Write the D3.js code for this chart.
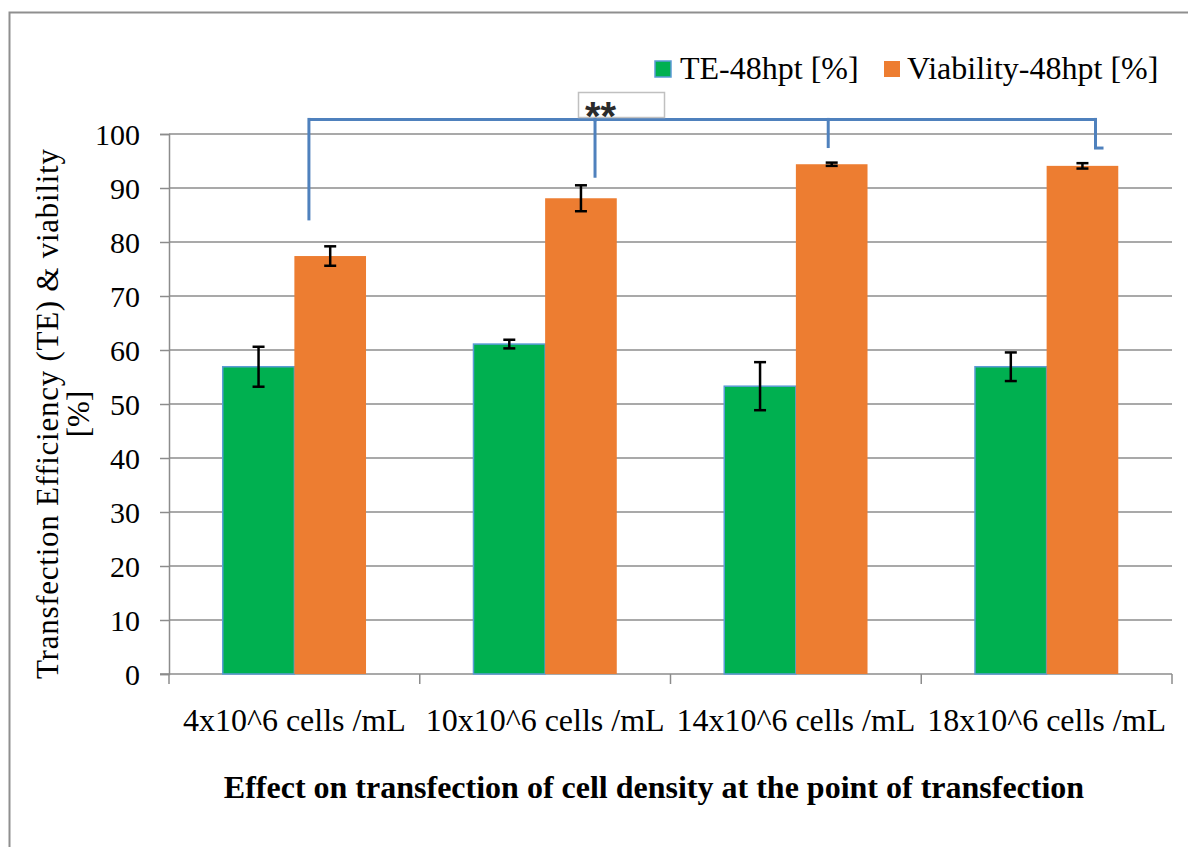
<!DOCTYPE html>
<html>
<head>
<meta charset="utf-8">
<script src="https://cdn.jsdelivr.net/npm/d3@7"></script>
<style>
  html, body { margin: 0; padding: 0; background: #fff; }
  svg { display: block; }
</style>
</head>
<body>
<svg id="chart" width="1188" height="847"></svg>
<script>
// Cell densities at the point of transfection
const categories = ["4x10^6 cells /mL", "10x10^6 cells /mL", "14x10^6 cells /mL", "18x10^6 cells /mL"];
const seriesNames = ["TE-48hpt [%]", "Viability-48hpt [%]"];
// Mean values and error bar half-widths (%)
const teValues = [56.9, 61.1, 53.3, 56.9];
const teErrors = [3.7, 0.8, 4.45, 2.65];
const viabilityValues = [77.4, 88.1, 94.4, 94.1];
const viabilityErrors = [1.8, 2.4, 0.3, 0.5];
const yTicks = [0, 10, 20, 30, 40, 50, 60, 70, 80, 90, 100];
// Significance bracket: top level and where each leg stops (in % units)
const bracketTop = 102.7;
const bracketLegEnds = [84.0, 91.9, 97.4, 97.4];
const significanceLabel = "**";

const colors = { "TE-48hpt [%]": "#00B050", "Viability-48hpt [%]": "#ED7D31" };
const gridColor = "#8c8c8c";
const SERIF = "'Liberation Serif', 'Times New Roman', serif";

const svg = d3.select("#chart");

// outer chart frame
svg.append("rect")
  .attr("x", 9.5).attr("y", 12.5)
  .attr("width", 1200).attr("height", 900)
  .attr("fill", "none").attr("stroke", "#8f8f8f").attr("stroke-width", 2);

const plot = { left: 169, right: 1172, top: 134, bottom: 674 };

const x0 = d3.scaleBand().domain(categories).range([plot.left, plot.right]).padding(0);
const x1 = d3.scaleBand().domain(seriesNames).range([0, x0.bandwidth()])
  .paddingInner(0).paddingOuter(0.75);
const y = d3.scaleLinear().domain([0, 100]).range([plot.bottom, plot.top]);

// horizontal gridlines
svg.append("g").selectAll("line").data(yTicks.filter(d => d > 0)).join("line")
  .attr("x1", plot.left).attr("x2", plot.right)
  .attr("y1", d => y(d)).attr("y2", d => y(d))
  .attr("stroke", gridColor).attr("stroke-width", 1.5);

// y axis
const yAxis = svg.append("g")
  .attr("transform", `translate(${plot.left},0)`)
  .call(d3.axisLeft(y).tickValues(yTicks).tickSize(9).tickPadding(20).tickFormat(d3.format("d")));
yAxis.attr("font-family", null).attr("font-size", null);
yAxis.select(".domain").attr("stroke", gridColor).attr("stroke-width", 1.5);
yAxis.selectAll(".tick line").attr("stroke", gridColor).attr("stroke-width", 1.5);
yAxis.selectAll(".tick text")
  .style("font-family", SERIF)
  .style("font-size", "30px").style("fill", "#000").attr("dy", "0.34em");

// x axis (ticks at category boundaries)
const boundaries = categories.map(c => x0(c)).concat([plot.right]);
const xAxisG = svg.append("g");
xAxisG.append("line")
  .attr("x1", plot.left - 9).attr("x2", plot.right)
  .attr("y1", plot.bottom).attr("y2", plot.bottom)
  .attr("stroke", gridColor).attr("stroke-width", 1.5);
xAxisG.selectAll(".bt").data(boundaries).join("line")
  .attr("class", "bt")
  .attr("x1", d => d).attr("x2", d => d)
  .attr("y1", plot.bottom).attr("y2", plot.bottom + 10)
  .attr("stroke", gridColor).attr("stroke-width", 1.5);
xAxisG.selectAll(".cl").data(categories).join("text")
  .attr("class", "cl")
  .attr("x", d => x0(d) + x0.bandwidth() / 2)
  .attr("y", 731)
  .attr("text-anchor", "middle")
  .style("font-family", SERIF).style("font-size", "32px").style("fill", "#000")
  .text(d => d);

// bars
const rows = categories.map((c, i) => ({
  cat: c,
  items: [
    { name: seriesNames[0], value: teValues[i], err: teErrors[i] },
    { name: seriesNames[1], value: viabilityValues[i], err: viabilityErrors[i] }
  ]
}));

const groups = svg.append("g").selectAll("g").data(rows).join("g")
  .attr("transform", d => `translate(${x0(d.cat)},0)`);

groups.selectAll("rect").data(d => d.items).join("rect")
  .attr("x", d => x1(d.name))
  .attr("y", d => y(d.value))
  .attr("width", x1.bandwidth())
  .attr("height", d => y(0) - y(d.value))
  .attr("fill", d => colors[d.name])
  .attr("stroke", d => d.name === seriesNames[0] ? "#5B9BD5" : "none")
  .attr("stroke-width", 1.5);

// error bars
const capHalf = 6;
const eb = groups.selectAll("g.err").data(d => d.items).join("g").attr("class", "err");
eb.append("line")
  .attr("x1", d => x1(d.name) + x1.bandwidth() / 2)
  .attr("x2", d => x1(d.name) + x1.bandwidth() / 2)
  .attr("y1", d => y(d.value + d.err)).attr("y2", d => y(d.value - d.err))
  .attr("stroke", "#000").attr("stroke-width", 2.5);
eb.selectAll("line.cap").data(d => [
    { name: d.name, v: d.value + d.err },
    { name: d.name, v: d.value - d.err }
  ]).join("line").attr("class", "cap")
  .attr("x1", d => x1(d.name) + x1.bandwidth() / 2 - capHalf)
  .attr("x2", d => x1(d.name) + x1.bandwidth() / 2 + capHalf)
  .attr("y1", d => y(d.v)).attr("y2", d => y(d.v))
  .attr("stroke", "#000").attr("stroke-width", 2.5);

// significance bracket over the viability bars
const legX = [
  x0(categories[0]) + x0.bandwidth() * 0.558,
  x0(categories[1]) + x0.bandwidth() * 0.699,
  x0(categories[2]) + x0.bandwidth() * 0.629,
  x0(categories[3]) + x0.bandwidth() * 0.695
];
const bracketColor = "#4F81BD";
const br = svg.append("g");
br.append("line")
  .attr("x1", legX[0]).attr("x2", legX[3])
  .attr("y1", y(bracketTop)).attr("y2", y(bracketTop))
  .attr("stroke", bracketColor).attr("stroke-width", 3);
br.selectAll(".leg").data(bracketLegEnds).join("line")
  .attr("class", "leg")
  .attr("x1", (d, i) => legX[i]).attr("x2", (d, i) => legX[i])
  .attr("y1", y(bracketTop) - 1.5).attr("y2", d => y(d))
  .attr("stroke", bracketColor).attr("stroke-width", 3);
br.append("line")
  .attr("x1", legX[3] - 1.5).attr("x2", legX[3] + 8)
  .attr("y1", y(bracketLegEnds[3])).attr("y2", y(bracketLegEnds[3]))
  .attr("stroke", bracketColor).attr("stroke-width", 3);

// label box
br.append("rect")
  .attr("x", 578.5).attr("y", 92.5).attr("width", 86).attr("height", 25)
  .attr("fill", "#fff").attr("stroke", "#c0c0c0").attr("stroke-width", 1.5);
br.append("line")
  .attr("x1", legX[1]).attr("x2", legX[1])
  .attr("y1", y(bracketTop) - 1.5).attr("y2", y(bracketTop) + 2)
  .attr("stroke", bracketColor).attr("stroke-width", 3);
br.append("text")
  .attr("x", 585).attr("y", 130)
  .style("font-family", "'Liberation Sans', Arial, sans-serif")
  .style("font-size", "40px")
  .style("font-weight", "bold")
  .style("fill", "#2b2b2b")
  .text(significanceLabel);

// legend
const legend = svg.append("g");
const legendItems = [
  { name: seriesNames[0], sx: 655, tx: 680 },
  { name: seriesNames[1], sx: 884, tx: 907 }
];
legend.selectAll("rect").data(legendItems).join("rect")
  .attr("x", d => d.sx).attr("y", 61).attr("width", 16).attr("height", 16)
  .attr("fill", d => colors[d.name])
  .attr("stroke", d => d.name === seriesNames[0] ? "#5B9BD5" : "none")
  .attr("stroke-width", 1.5);
legend.selectAll("text").data(legendItems).join("text")
  .attr("x", d => d.tx).attr("y", 79)
  .style("font-family", SERIF).style("font-size", "32px").style("fill", "#000")
  .text(d => d.name);

// axis titles
const yTitle = svg.append("text")
  .attr("transform", "translate(58,414) rotate(-90)")
  .attr("text-anchor", "middle")
  .style("font-family", SERIF).style("font-size", "31px").style("fill", "#000");
yTitle.append("tspan").attr("x", 0).attr("y", 0)
  .attr("textLength", 530).attr("lengthAdjust", "spacing")
  .text("Transfection Efficiency (TE) & viability");
yTitle.append("tspan").attr("x", 0).attr("y", 31).text("[%]");

svg.append("text")
  .attr("x", 654).attr("y", 798)
  .attr("text-anchor", "middle")
  .style("font-family", SERIF).style("font-size", "32px")
  .style("font-weight", "bold").style("fill", "#000")
  .text("Effect on transfection of cell density at the point of transfection");
</script>
</body>
</html>
